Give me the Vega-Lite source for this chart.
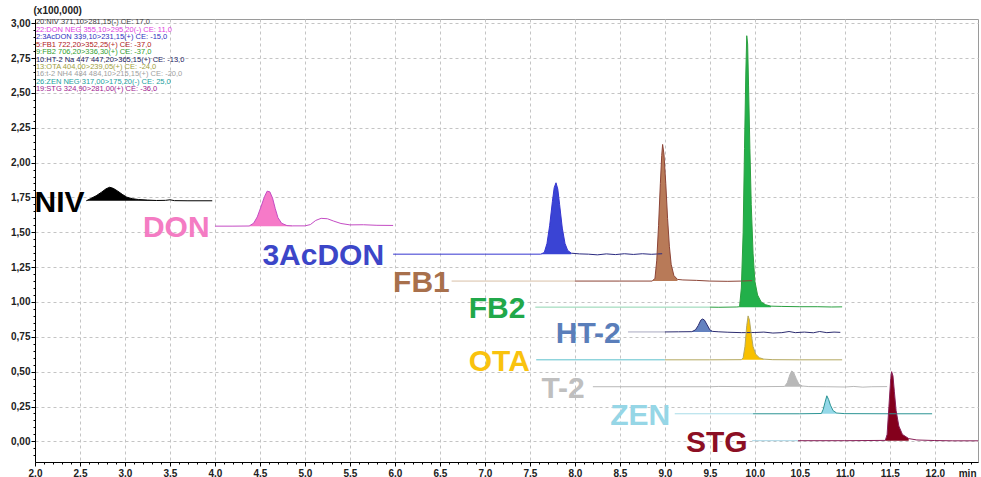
{
"$schema": "https://vega.github.io/schema/vega-lite/v6.json",
"width": 943, "height": 443,
"autosize": {"type": "none"},
"padding": {"left": 35, "top": 19, "right": 3, "bottom": 15},
"config": {"view": {"stroke": "#9a9a9a", "strokeWidth": 1}, "font": "Liberation Sans"},
"datasets": {
"tr": [
{"s":"NIV","t":2.57,"v":1.726,"f":"NIV","b":1.726},
{"s":"NIV","t":2.62,"v":1.742,"f":"NIV","b":1.726},
{"s":"NIV","t":2.68,"v":1.762,"f":"NIV","b":1.726},
{"s":"NIV","t":2.74,"v":1.788,"f":"NIV","b":1.726},
{"s":"NIV","t":2.79,"v":1.812,"f":"NIV","b":1.726},
{"s":"NIV","t":2.83,"v":1.823,"f":"NIV","b":1.726},
{"s":"NIV","t":2.87,"v":1.815,"f":"NIV","b":1.726},
{"s":"NIV","t":2.92,"v":1.795,"f":"NIV","b":1.726},
{"s":"NIV","t":2.97,"v":1.772,"f":"NIV","b":1.726},
{"s":"NIV","t":3.02,"v":1.752,"f":"NIV","b":1.726},
{"s":"NIV","t":3.08,"v":1.741,"f":"NIV","b":1.726},
{"s":"NIV","t":3.15,"v":1.735,"f":"NIV","b":1.726},
{"s":"NIV","t":3.25,"v":1.731,"f":"NIV","b":1.726},
{"s":"NIV","t":3.35,"v":1.728,"f":"NIV","b":1.726},
{"s":"NIV","t":3.45,"v":1.729},
{"s":"NIV","t":3.5,"v":1.733},
{"s":"NIV","t":3.55,"v":1.727},
{"s":"NIV","t":3.7,"v":1.726},
{"s":"NIV","t":3.97,"v":1.726},
{"s":"DON","t":4.0,"v":1.544},
{"s":"DON","t":4.2,"v":1.544},
{"s":"DON","t":4.38,"v":1.545,"f":"DON","b":1.544},
{"s":"DON","t":4.43,"v":1.565,"f":"DON","b":1.544},
{"s":"DON","t":4.47,"v":1.61,"f":"DON","b":1.544},
{"s":"DON","t":4.51,"v":1.68,"f":"DON","b":1.544},
{"s":"DON","t":4.55,"v":1.755,"f":"DON","b":1.544},
{"s":"DON","t":4.58,"v":1.795,"f":"DON","b":1.544},
{"s":"DON","t":4.61,"v":1.79,"f":"DON","b":1.544},
{"s":"DON","t":4.64,"v":1.745,"f":"DON","b":1.544},
{"s":"DON","t":4.67,"v":1.67,"f":"DON","b":1.544},
{"s":"DON","t":4.7,"v":1.605,"f":"DON","b":1.544},
{"s":"DON","t":4.74,"v":1.565,"f":"DON","b":1.544},
{"s":"DON","t":4.8,"v":1.548,"f":"DON","b":1.544},
{"s":"DON","t":4.86,"v":1.546,"f":"DON","b":1.544},
{"s":"DON","t":5.0,"v":1.546},
{"s":"DON","t":5.06,"v":1.555},
{"s":"DON","t":5.12,"v":1.585},
{"s":"DON","t":5.18,"v":1.6},
{"s":"DON","t":5.25,"v":1.597},
{"s":"DON","t":5.32,"v":1.58},
{"s":"DON","t":5.4,"v":1.563},
{"s":"DON","t":5.5,"v":1.553},
{"s":"DON","t":5.65,"v":1.554},
{"s":"DON","t":5.8,"v":1.55},
{"s":"DON","t":5.98,"v":1.549},
{"s":"AC_a","t":5.98,"v":1.343},
{"s":"AC_a","t":7.0,"v":1.343},
{"s":"AC_a","t":7.62,"v":1.343,"f":"AC","b":1.343},
{"s":"AC_a","t":7.66,"v":1.355,"f":"AC","b":1.343},
{"s":"AC_a","t":7.69,"v":1.42,"f":"AC","b":1.343},
{"s":"AC_a","t":7.72,"v":1.55,"f":"AC","b":1.343},
{"s":"AC_a","t":7.75,"v":1.72,"f":"AC","b":1.343},
{"s":"AC_a","t":7.77,"v":1.82,"f":"AC","b":1.343},
{"s":"AC_a","t":7.79,"v":1.855,"f":"AC","b":1.343},
{"s":"AC_a","t":7.81,"v":1.81,"f":"AC","b":1.343},
{"s":"AC_a","t":7.83,"v":1.7,"f":"AC","b":1.343},
{"s":"AC_a","t":7.86,"v":1.53,"f":"AC","b":1.343},
{"s":"AC_a","t":7.89,"v":1.42,"f":"AC","b":1.343},
{"s":"AC_a","t":7.92,"v":1.37,"f":"AC","b":1.343},
{"s":"AC_a","t":7.96,"v":1.35,"f":"AC","b":1.343},
{"s":"AC_b","t":7.96,"v":1.35},
{"s":"AC_b","t":8.05,"v":1.345},
{"s":"AC_b","t":8.15,"v":1.343},
{"s":"AC_b","t":8.25,"v":1.338},
{"s":"AC_b","t":8.35,"v":1.345},
{"s":"AC_b","t":8.45,"v":1.34},
{"s":"AC_b","t":8.55,"v":1.346},
{"s":"AC_b","t":8.65,"v":1.341},
{"s":"AC_b","t":8.75,"v":1.346},
{"s":"AC_b","t":8.85,"v":1.342},
{"s":"AC_b","t":8.97,"v":1.346},
{"s":"FB1_a","t":6.63,"v":1.15},
{"s":"FB1_a","t":8.0,"v":1.15},
{"s":"FB1_b","t":8.0,"v":1.15},
{"s":"FB1_b","t":8.5,"v":1.15},
{"s":"FB1_b","t":8.86,"v":1.15,"f":"FB1","b":1.15},
{"s":"FB1_b","t":8.89,"v":1.17,"f":"FB1","b":1.15},
{"s":"FB1_b","t":8.91,"v":1.3,"f":"FB1","b":1.15},
{"s":"FB1_b","t":8.93,"v":1.55,"f":"FB1","b":1.15},
{"s":"FB1_b","t":8.95,"v":1.85,"f":"FB1","b":1.15},
{"s":"FB1_b","t":8.965,"v":2.05,"f":"FB1","b":1.15},
{"s":"FB1_b","t":8.975,"v":2.13,"f":"FB1","b":1.15},
{"s":"FB1_b","t":8.99,"v":2.06,"f":"FB1","b":1.15},
{"s":"FB1_b","t":9.01,"v":1.85,"f":"FB1","b":1.15},
{"s":"FB1_b","t":9.03,"v":1.6,"f":"FB1","b":1.15},
{"s":"FB1_b","t":9.05,"v":1.4,"f":"FB1","b":1.15},
{"s":"FB1_b","t":9.07,"v":1.27,"f":"FB1","b":1.15},
{"s":"FB1_b","t":9.1,"v":1.19,"f":"FB1","b":1.15},
{"s":"FB1_b","t":9.14,"v":1.162,"f":"FB1","b":1.15},
{"s":"FB1_b","t":9.2,"v":1.158},
{"s":"FB1_b","t":9.35,"v":1.155},
{"s":"FB1_b","t":9.5,"v":1.15},
{"s":"FB1_b","t":9.7,"v":1.148},
{"s":"FB1_b","t":9.85,"v":1.15},
{"s":"FB1_b","t":9.97,"v":1.153},
{"s":"FB2_a","t":7.56,"v":0.963},
{"s":"FB2_a","t":9.5,"v":0.963},
{"s":"FB2_b","t":9.5,"v":0.963},
{"s":"FB2_b","t":9.6,"v":0.962},
{"s":"FB2_b","t":9.8,"v":0.964},
{"s":"FB2_b","t":9.83,"v":0.966,"f":"FB2","b":0.963},
{"s":"FB2_b","t":9.85,"v":1.1,"f":"FB2","b":0.963},
{"s":"FB2_b","t":9.87,"v":1.5,"f":"FB2","b":0.963},
{"s":"FB2_b","t":9.885,"v":2.1,"f":"FB2","b":0.963},
{"s":"FB2_b","t":9.9,"v":2.65,"f":"FB2","b":0.963},
{"s":"FB2_b","t":9.91,"v":2.91,"f":"FB2","b":0.963},
{"s":"FB2_b","t":9.92,"v":2.85,"f":"FB2","b":0.963},
{"s":"FB2_b","t":9.93,"v":2.55,"f":"FB2","b":0.963},
{"s":"FB2_b","t":9.945,"v":2.1,"f":"FB2","b":0.963},
{"s":"FB2_b","t":9.96,"v":1.7,"f":"FB2","b":0.963},
{"s":"FB2_b","t":9.98,"v":1.35,"f":"FB2","b":0.963},
{"s":"FB2_b","t":10.0,"v":1.15,"f":"FB2","b":0.963},
{"s":"FB2_b","t":10.03,"v":1.05,"f":"FB2","b":0.963},
{"s":"FB2_b","t":10.07,"v":1.0,"f":"FB2","b":0.963},
{"s":"FB2_b","t":10.12,"v":0.98,"f":"FB2","b":0.963},
{"s":"FB2_b","t":10.18,"v":0.97,"f":"FB2","b":0.963},
{"s":"FB2_b","t":10.3,"v":0.968},
{"s":"FB2_b","t":10.5,"v":0.966},
{"s":"FB2_b","t":10.7,"v":0.966},
{"s":"FB2_b","t":10.85,"v":0.964},
{"s":"FB2_b","t":10.97,"v":0.965},
{"s":"HT2_a","t":8.59,"v":0.785},
{"s":"HT2_a","t":9.0,"v":0.785},
{"s":"HT2_b","t":9.0,"v":0.785},
{"s":"HT2_b","t":9.15,"v":0.786},
{"s":"HT2_b","t":9.3,"v":0.787,"f":"HT2","b":0.785},
{"s":"HT2_b","t":9.34,"v":0.8,"f":"HT2","b":0.785},
{"s":"HT2_b","t":9.37,"v":0.83,"f":"HT2","b":0.785},
{"s":"HT2_b","t":9.4,"v":0.87,"f":"HT2","b":0.785},
{"s":"HT2_b","t":9.42,"v":0.878,"f":"HT2","b":0.785},
{"s":"HT2_b","t":9.44,"v":0.87,"f":"HT2","b":0.785},
{"s":"HT2_b","t":9.47,"v":0.835,"f":"HT2","b":0.785},
{"s":"HT2_b","t":9.5,"v":0.8,"f":"HT2","b":0.785},
{"s":"HT2_b","t":9.53,"v":0.789,"f":"HT2","b":0.785},
{"s":"HT2_b","t":9.6,"v":0.786},
{"s":"HT2_b","t":9.7,"v":0.783},
{"s":"HT2_b","t":9.85,"v":0.78},
{"s":"HT2_b","t":10.0,"v":0.781},
{"s":"HT2_b","t":10.1,"v":0.784},
{"s":"HT2_b","t":10.2,"v":0.777},
{"s":"HT2_b","t":10.3,"v":0.78},
{"s":"HT2_b","t":10.38,"v":0.788},
{"s":"HT2_b","t":10.45,"v":0.78},
{"s":"HT2_b","t":10.55,"v":0.784},
{"s":"HT2_b","t":10.65,"v":0.779},
{"s":"HT2_b","t":10.72,"v":0.788},
{"s":"HT2_b","t":10.8,"v":0.78},
{"s":"HT2_b","t":10.88,"v":0.784},
{"s":"HT2_b","t":10.95,"v":0.782},
{"s":"OTA_a","t":7.57,"v":0.585},
{"s":"OTA_a","t":9.0,"v":0.585},
{"s":"OTA_b","t":9.0,"v":0.585},
{"s":"OTA_b","t":9.5,"v":0.585},
{"s":"OTA_b","t":9.85,"v":0.586,"f":"OTA","b":0.585},
{"s":"OTA_b","t":9.87,"v":0.6,"f":"OTA","b":0.585},
{"s":"OTA_b","t":9.89,"v":0.68,"f":"OTA","b":0.585},
{"s":"OTA_b","t":9.91,"v":0.83,"f":"OTA","b":0.585},
{"s":"OTA_b","t":9.925,"v":0.9,"f":"OTA","b":0.585},
{"s":"OTA_b","t":9.94,"v":0.87,"f":"OTA","b":0.585},
{"s":"OTA_b","t":9.96,"v":0.77,"f":"OTA","b":0.585},
{"s":"OTA_b","t":9.98,"v":0.68,"f":"OTA","b":0.585},
{"s":"OTA_b","t":10.01,"v":0.625,"f":"OTA","b":0.585},
{"s":"OTA_b","t":10.05,"v":0.6,"f":"OTA","b":0.585},
{"s":"OTA_b","t":10.1,"v":0.59,"f":"OTA","b":0.585},
{"s":"OTA_b","t":10.2,"v":0.586},
{"s":"OTA_b","t":10.5,"v":0.585},
{"s":"OTA_b","t":10.97,"v":0.585},
{"s":"T2","t":8.2,"v":0.392},
{"s":"T2","t":9.5,"v":0.392},
{"s":"T2","t":9.6,"v":0.394},
{"s":"T2","t":10.0,"v":0.392},
{"s":"T2","t":10.33,"v":0.394,"f":"T2","b":0.392},
{"s":"T2","t":10.36,"v":0.42,"f":"T2","b":0.392},
{"s":"T2","t":10.39,"v":0.48,"f":"T2","b":0.392},
{"s":"T2","t":10.41,"v":0.505,"f":"T2","b":0.392},
{"s":"T2","t":10.43,"v":0.495,"f":"T2","b":0.392},
{"s":"T2","t":10.46,"v":0.45,"f":"T2","b":0.392},
{"s":"T2","t":10.49,"v":0.41,"f":"T2","b":0.392},
{"s":"T2","t":10.53,"v":0.397,"f":"T2","b":0.392},
{"s":"T2","t":10.6,"v":0.393},
{"s":"T2","t":10.8,"v":0.392},
{"s":"T2","t":11.0,"v":0.39},
{"s":"T2","t":11.1,"v":0.394},
{"s":"T2","t":11.2,"v":0.389},
{"s":"T2","t":11.3,"v":0.392},
{"s":"T2","t":11.47,"v":0.393},
{"s":"ZEN_a","t":9.11,"v":0.198},
{"s":"ZEN_a","t":9.98,"v":0.198},
{"s":"ZEN_b","t":9.98,"v":0.198},
{"s":"ZEN_b","t":10.5,"v":0.198},
{"s":"ZEN_b","t":10.74,"v":0.2,"f":"ZEN","b":0.198},
{"s":"ZEN_b","t":10.76,"v":0.23,"f":"ZEN","b":0.198},
{"s":"ZEN_b","t":10.78,"v":0.28,"f":"ZEN","b":0.198},
{"s":"ZEN_b","t":10.8,"v":0.327,"f":"ZEN","b":0.198},
{"s":"ZEN_b","t":10.82,"v":0.3,"f":"ZEN","b":0.198},
{"s":"ZEN_b","t":10.84,"v":0.26,"f":"ZEN","b":0.198},
{"s":"ZEN_b","t":10.87,"v":0.22,"f":"ZEN","b":0.198},
{"s":"ZEN_b","t":10.91,"v":0.203,"f":"ZEN","b":0.198},
{"s":"ZEN_b","t":11.0,"v":0.199},
{"s":"ZEN_b","t":11.5,"v":0.198},
{"s":"ZEN_b","t":11.97,"v":0.198},
{"s":"STG_a","t":9.97,"v":0.005},
{"s":"STG_a","t":10.48,"v":0.005},
{"s":"STG_b","t":10.48,"v":0.005},
{"s":"STG_b","t":11.0,"v":0.005},
{"s":"STG_b","t":11.45,"v":0.007,"f":"STG","b":0.005},
{"s":"STG_b","t":11.47,"v":0.05,"f":"STG","b":0.005},
{"s":"STG_b","t":11.49,"v":0.25,"f":"STG","b":0.005},
{"s":"STG_b","t":11.51,"v":0.45,"f":"STG","b":0.005},
{"s":"STG_b","t":11.52,"v":0.5,"f":"STG","b":0.005},
{"s":"STG_b","t":11.535,"v":0.47,"f":"STG","b":0.005},
{"s":"STG_b","t":11.55,"v":0.36,"f":"STG","b":0.005},
{"s":"STG_b","t":11.57,"v":0.22,"f":"STG","b":0.005},
{"s":"STG_b","t":11.6,"v":0.11,"f":"STG","b":0.005},
{"s":"STG_b","t":11.64,"v":0.05,"f":"STG","b":0.005},
{"s":"STG_b","t":11.71,"v":0.02,"f":"STG","b":0.005},
{"s":"STG_b","t":11.8,"v":0.01},
{"s":"STG_b","t":12.0,"v":0.006},
{"s":"STG_b","t":12.2,"v":0.004},
{"s":"STG_b","t":12.48,"v":0.004}
],
"lab": [
{"n":"NIV","t":2.55,"v":1.726},
{"n":"DON","t":3.94,"v":1.544},
{"n":"3AcDON","t":5.88,"v":1.343},
{"n":"FB1","t":6.61,"v":1.15},
{"n":"FB2","t":7.45,"v":0.963},
{"n":"HT-2","t":8.51,"v":0.785},
{"n":"OTA","t":7.5,"v":0.585},
{"n":"T-2","t":8.11,"v":0.392},
{"n":"ZEN","t":9.06,"v":0.198},
{"n":"STG","t":9.92,"v":0.005}
],
"leg": [
{"txt":"20:NIV 371,10>281,15(-) CE: 17,0","k":"a","t":2.01,"v":3.006},
{"txt":"22:DON NEG 355,10>295,20(-) CE: 11,0","k":"b","t":2.01,"v":2.953},
{"txt":"2:3AcDON 339,10>231,15(+) CE: -15,0","k":"c","t":2.01,"v":2.899},
{"txt":"5:FB1  722,20>352,25(+) CE: -37,0","k":"d","t":2.01,"v":2.846},
{"txt":"9:FB2 706,20>336,30(+) CE: -37,0","k":"e","t":2.01,"v":2.792},
{"txt":"10:HT-2 Na 447 447,20>365,15(+) CE: -13,0","k":"f","t":2.01,"v":2.739},
{"txt":"13:OTA 404,00>239,05(+) CE: -24,0","k":"g","t":2.01,"v":2.685},
{"txt":"16:t-2 NH4 484 484,10>215,15(+) CE: -20,0","k":"h","t":2.01,"v":2.632},
{"txt":"26:ZEN NEG 317,00>175,20(-) CE: 25,0","k":"i","t":2.01,"v":2.578},
{"txt":"19:STG 324,90>281,00(+) CE: -36,0","k":"j","t":2.01,"v":2.525}
]
},
"encoding": {
"x": {"field": "t", "type": "quantitative", "scale": {"domain": [2, 12.48], "nice": false, "zero": false},
  "axis": {
    "values": [2.0,2.1,2.2,2.3,2.4,2.5,2.6,2.7,2.8,2.9,3.0,3.1,3.2,3.3,3.4,3.5,3.6,3.7,3.8,3.9,4.0,4.1,4.2,4.3,4.4,4.5,4.6,4.7,4.8,4.9,5.0,5.1,5.2,5.3,5.4,5.5,5.6,5.7,5.8,5.9,6.0,6.1,6.2,6.3,6.4,6.5,6.6,6.7,6.8,6.9,7.0,7.1,7.2,7.3,7.4,7.5,7.6,7.7,7.8,7.9,8.0,8.1,8.2,8.3,8.4,8.5,8.6,8.7,8.8,8.9,9.0,9.1,9.2,9.3,9.4,9.5,9.6,9.7,9.8,9.9,10.0,10.1,10.2,10.3,10.4,10.5,10.6,10.7,10.8,10.9,11.0,11.1,11.2,11.3,11.4,11.5,11.6,11.7,11.8,11.9,12.0,12.1,12.2,12.3,12.4],
    "labelExpr": "abs(datum.value*2 - round(datum.value*2)) < 0.001 ? replace(format(datum.value, '.1f'), '.', ',') : ''",
    "tickSize": {"condition": {"test": "abs(datum.value*2 - round(datum.value*2)) < 0.001", "value": 4}, "value": 2},
    "gridOpacity": {"condition": {"test": "abs(datum.value*2 - round(datum.value*2)) < 0.001", "value": 1}, "value": 0},
    "grid": true, "gridDash": [3, 3], "gridColor": "#c4c4c4", "gridWidth": 1,
    "labelOverlap": false, "labelBound": false, "labelFlush": false,
    "labelFontSize": 10, "labelFontWeight": "bold", "labelColor": "#222222", "labelPadding": 2,
    "domainColor": "#000000", "tickColor": "#000000",
    "title": "min", "titleX": 941, "titleY": 11, "titleAlign": "right", "titleBaseline": "middle",
    "titleFontSize": 10, "titleFontWeight": "bold", "titleColor": "#222222"
  }},
"y": {"field": "v", "type": "quantitative", "stack": null, "scale": {"domain": [-0.148, 3.03], "nice": false, "zero": false},
  "axis": {
    "values": [-0.1,-0.05,0,0.05,0.1,0.15,0.2,0.25,0.3,0.35,0.4,0.45,0.5,0.55,0.6,0.65,0.7,0.75,0.8,0.85,0.9,0.95,1.0,1.05,1.1,1.15,1.2,1.25,1.3,1.35,1.4,1.45,1.5,1.55,1.6,1.65,1.7,1.75,1.8,1.85,1.9,1.95,2.0,2.05,2.1,2.15,2.2,2.25,2.3,2.35,2.4,2.45,2.5,2.55,2.6,2.65,2.7,2.75,2.8,2.85,2.9,2.95,3.0],
    "labelExpr": "abs(datum.value*4 - round(datum.value*4)) < 0.001 ? replace(format(datum.value, '.2f'), '.', ',') : ''",
    "tickSize": {"condition": {"test": "abs(datum.value*4 - round(datum.value*4)) < 0.001", "value": 4}, "value": 2},
    "gridOpacity": {"condition": {"test": "abs(datum.value*4 - round(datum.value*4)) < 0.001", "value": 1}, "value": 0},
    "grid": true, "gridDash": [3, 3], "gridColor": "#c4c4c4", "gridWidth": 1,
    "labelOverlap": false, "labelBound": false, "labelFlush": false,
    "labelFontSize": 10, "labelFontWeight": "bold", "labelColor": "#222222", "labelPadding": 1,
    "domainColor": "#000000", "tickColor": "#000000",
    "title": "(x100,000)", "titleAngle": 0, "titleX": -2, "titleY": -4, "titleAlign": "left", "titleBaseline": "bottom",
    "titleFontSize": 10, "titleFontWeight": "bold", "titleColor": "#222222"
  }}
},
"layer": [
{"data": {"name": "tr"}, "transform": [{"filter": "isValid(datum.f)"}],
 "mark": {"type": "area", "opacity": 1},
 "encoding": {"y2": {"field": "b"},
  "color": {"field": "f", "type": "nominal", "legend": null,
   "scale": {"domain": ["NIV","DON","AC","FB1","FB2","HT2","OTA","T2","ZEN","STG"],
             "range": ["#000000","#f67ac8","#3a44d4","#b87a58","#22b04a","#6482c0","#f8c000","#b8b8b8","#94d8e8","#84001c"]}}}},
{"data": {"name": "tr"},
 "mark": {"type": "line", "strokeWidth": 1},
 "encoding": {
  "color": {"field": "s", "type": "nominal", "legend": null,
   "scale": {"domain": ["NIV","DON","AC_a","AC_b","FB1_a","FB1_b","FB2_a","FB2_b","HT2_a","HT2_b","OTA_a","OTA_b","T2","ZEN_a","ZEN_b","STG_a","STG_b"],
             "range": ["#000000","#c44cc4","#3535d0","#2a2a80","#d9bfa6","#8c4436","#8fd4b0","#2aa040","#a8a8c0","#2c2c70","#5cc0cc","#b4a860","#b8b8b8","#a8dce8","#2c9494","#a8d4e4","#882058"]}}}},
{"data": {"name": "lab"},
 "mark": {"type": "text", "align": "right", "baseline": "alphabetic", "dy": 11, "fontSize": 30, "fontWeight": "bold", "font": "Liberation Sans"},
 "encoding": {"text": {"field": "n"},
  "color": {"field": "n", "type": "nominal", "legend": null,
   "scale": {"domain": ["NIV","DON","3AcDON","FB1","FB2","HT-2","OTA","T-2","ZEN","STG"],
             "range": ["#000000","#f47cc3","#3c46c8","#a8704c","#21a84a","#5a7eba","#f9c20e","#bfbfbf","#96d6e6","#8c0f24"]}}}},
{"data": {"name": "leg"},
 "mark": {"type": "text", "align": "left", "baseline": "middle", "fontSize": 7.5, "font": "Liberation Sans"},
 "encoding": {"text": {"field": "txt"},
  "color": {"field": "k", "type": "nominal", "legend": null,
   "scale": {"domain": ["a","b","c","d","e","f","g","h","i","j"],
             "range": ["#404040","#e040e0","#3030c0","#b02020","#30a030","#202060","#a0a040","#a0a0a0","#20a0a0","#a02090"]}}}}
],
"resolve": {"scale": {"color": "independent"}}
}
